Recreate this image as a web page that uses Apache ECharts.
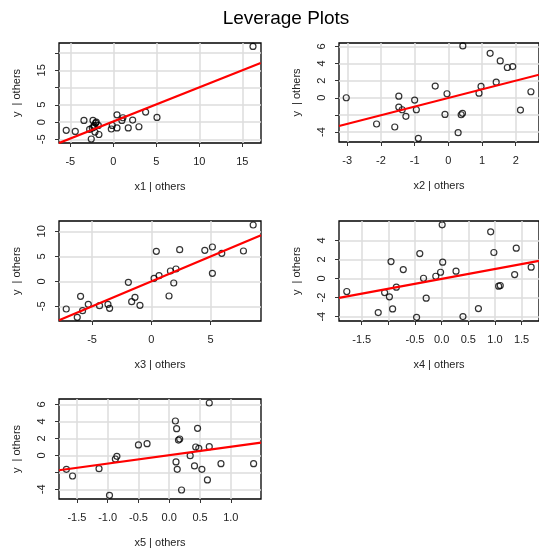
<!DOCTYPE html>
<html>
<head>
<meta charset="utf-8">
<script src="https://cdn.jsdelivr.net/npm/echarts@6/dist/echarts.min.js"></script>
<style>html,body{margin:0;padding:0;background:#fff;}#c{width:539px;height:549px;}</style>
</head>
<body>
<div id="c"></div>
<script>
// ---- data ----
const p1x = [16.24,-5.47,-4.42,-3.41,-2.56,-2.75,-2.44,-2.36,-2.21,-2.05,-1.98,-2.13,-1.74,-1.67,-2.25,-0.23,-0.12,0.43,0.43,1.0,1.12,1.74,2.25,2.98,3.76,5.08];
const p1y = [21.9,-2.4,-2.7,0.48,-4.9,-2.1,-1.7,0.48,-0.97,-0.3,0,-2.9,-0.97,-3.6,-1.45,-2.0,-0.97,2.1,-1.7,0.48,1.25,-1.7,0.58,-1.35,2.9,1.35];
const p1Line = [[-6.32,-6.08],[17.13,17.08]];

const p2x = [-3.03,-2.13,-1.59,-1.47,-1.47,-1.37,-1.26,-1.0,-0.95,-0.89,-0.39,-0.10,-0.04,0.38,0.42,0.29,0.43,0.91,0.97,1.24,1.42,1.54,1.75,1.91,2.14,2.45];
const p2y = [0,-3.06,-3.41,0.19,-1.09,-1.40,-2.17,-0.27,-1.40,-4.73,1.36,-1.94,0.47,-1.98,-1.82,-4.07,6.05,0.54,1.32,5.19,1.82,4.30,3.53,3.64,-1.43,0.70];
const p2Line = [[-3.245,-3.29],[2.69,2.69]];

const p3x = [-7.18,-6.25,-5.97,-5.80,-5.32,-4.37,-3.66,-3.52,-1.94,-1.66,-1.38,-0.96,0.23,0.42,0.65,1.49,1.61,1.89,2.08,2.39,4.51,5.15,5.15,5.94,7.77,8.59];
const p3y = [-5.53,-7.2,-3.0,-5.87,-4.6,-4.87,-4.6,-5.4,-0.2,-4.07,-3.2,-4.8,0.6,6.0,1.13,-2.93,2.07,-0.33,2.47,6.33,6.2,6.87,1.6,5.6,6.07,11.27];
const p3Line = [[-7.79,-7.8],[9.25,9.2]];

const p4x = [-1.78,-1.19,-1.07,-0.98,-0.95,-0.92,-0.85,-0.72,-0.47,-0.41,-0.34,-0.29,-0.11,-0.02,0.01,0.02,0.27,0.40,0.69,0.92,0.98,1.07,1.10,1.37,1.40,1.68];
const p4y = [-1.36,-3.57,-1.47,-1.92,1.78,-3.18,-0.91,0.94,-4.06,2.62,0.03,-2.06,0.24,0.66,5.63,1.71,0.77,-3.99,-3.15,4.9,2.73,-0.80,-0.73,0.42,3.18,1.19];
const p4Line = [[-1.926,-2.03],[1.827,1.86]];

const p5x = [-1.67,-1.57,-1.14,-0.97,-0.875,-0.85,-0.50,-0.36,0.10,0.12,0.11,0.13,0.15,0.17,0.20,0.34,0.41,0.43,0.46,0.48,0.53,0.62,0.65,0.65,0.84,1.37];
const p5y = [-1.65,-2.43,-1.57,-4.71,-0.43,-0.12,1.22,1.37,4.04,3.14,-0.78,-1.65,1.80,1.92,-4.08,-0.04,-1.25,0.98,3.18,0.82,-1.65,-2.9,6.16,1.02,-0.98,-0.98];
const p5Line = [[-1.79,-1.76],[1.49,1.49]];

// tick values (all) and shown tick labels
const p1XTicks = [-5,0,5,10,15],   p1XLabels = [-5,0,5,10,15];
const p1YTicks = [-5,0,5,10,15,20], p1YLabels = [-5,0,5,15];
const p2XTicks = [-3,-2,-1,0,1,2], p2XLabels = [-3,-2,-1,0,1,2];
const p2YTicks = [-4,-2,0,2,4,6],  p2YLabels = [-4,0,2,4,6];
const p3XTicks = [-5,0,5],         p3XLabels = [-5,0,5];
const p3YTicks = [-5,0,5,10],      p3YLabels = [-5,0,5,10];
const p4XTicks = [-1.5,-1.0,-0.5,0.0,0.5,1.0,1.5], p4XLabels = [-1.5,-0.5,0.0,0.5,1.0,1.5];
const p4YTicks = [-4,-2,0,2,4],    p4YLabels = [-4,-2,0,2,4];
const p5XTicks = [-1.5,-1.0,-0.5,0.0,0.5,1.0], p5XLabels = [-1.5,-1.0,-0.5,0.0,0.5,1.0];
const p5YTicks = [-4,-2,0,2,4,6],  p5YLabels = [-4,0,2,4,6];

const xNames = ['x1 | others','x2 | others','x3 | others','x4 | others','x5 | others'];
const yName = 'y  | others';
const titleText = 'Leverage Plots';

// ---- layout ----
const FONT = 'Liberation Sans, Arial, Helvetica, sans-serif';
const grids = [
  {left:59, top:43, width:202, height:100, xr:[-6.31,17.17], yr:[-6.06,22.9]},
  {left:339, top:43, width:202, height:99, xr:[-3.245,2.69], yr:[-5.16,6.39]},
  {left:59, top:221, width:202, height:100, xr:[-7.79,9.25], yr:[-7.93,12.07]},
  {left:339, top:221, width:202, height:100, xr:[-1.926,1.827], yr:[-4.45,6.03]},
  {left:59, top:399, width:202, height:100, xr:[-1.79,1.49], yr:[-5.14,6.63]}
];
const panels = [
  {x:p1x,y:p1y,line:p1Line,xt:p1XTicks,xl:p1XLabels,yt:p1YTicks,yl:p1YLabels},
  {x:p2x,y:p2y,line:p2Line,xt:p2XTicks,xl:p2XLabels,yt:p2YTicks,yl:p2YLabels},
  {x:p3x,y:p3y,line:p3Line,xt:p3XTicks,xl:p3XLabels,yt:p3YTicks,yl:p3YLabels},
  {x:p4x,y:p4y,line:p4Line,xt:p4XTicks,xl:p4XLabels,yt:p4YTicks,yl:p4YLabels},
  {x:p5x,y:p5y,line:p5Line,xt:p5XTicks,xl:p5XLabels,yt:p5YTicks,yl:p5YLabels}
];

function fmt(decimals){ return v => decimals ? Number(v).toFixed(1) : String(Math.round(v)); }

const option = {
  backgroundColor:'#fff',
  animation:false,
  title:{text:titleText,left:286,top:9,textAlign:'center',padding:0,
    textStyle:{fontFamily:FONT,fontSize:19,fontWeight:'normal',color:'#000'}},
  grid:[], xAxis:[], yAxis:[], series:[]
};

panels.forEach((p,i)=>{
  const g = grids[i];
  option.grid.push({left:g.left,top:g.top,width:g.width,height:g.height,show:true,
    borderColor:'#000',borderWidth:1.3,backgroundColor:'transparent',containLabel:false});
  const dec = (i===3||i===4);
  option.xAxis.push({type:'value',gridIndex:i,min:g.xr[0],max:g.xr[1],position:'bottom',
    name:xNames[i],nameLocation:'middle',nameGap:38,
    nameTextStyle:{fontFamily:FONT,fontSize:11,color:'#222'},
    axisLine:{show:false,onZero:false},
    axisTick:{show:true,inside:false,length:4,customValues:p.xt,lineStyle:{color:'#333',width:1}},
    axisLabel:{customValues:p.xl,margin:13,formatter:fmt(dec),fontFamily:FONT,fontSize:11,color:'#222'},
    splitLine:{show:true,lineStyle:{color:'#dcdcdc',width:1.5}}
  });
  option.yAxis.push({type:'value',gridIndex:i,min:g.yr[0],max:g.yr[1],position:'left',
    name:yName,nameLocation:'middle',nameGap:37,nameRotate:90,
    nameTextStyle:{fontFamily:FONT,fontSize:11,color:'#222'},
    axisLine:{show:false,onZero:false},
    axisTick:{show:true,inside:false,length:4,customValues:p.yt,lineStyle:{color:'#333',width:1}},
    axisLabel:{customValues:p.yl,margin:12,rotate:90,formatter:fmt(false),fontFamily:FONT,fontSize:11,color:'#222'},
    splitLine:{show:true,lineStyle:{color:'#dcdcdc',width:1.5}}
  });
  option.series.push({type:'scatter',xAxisIndex:i,yAxisIndex:i,
    data:p.x.map((v,k)=>[v,p.y[k]]),symbol:'circle',symbolSize:6,
    itemStyle:{color:'rgba(0,0,0,0)',borderColor:'#000',borderWidth:1.2},z:3});
  option.series.push({type:'line',xAxisIndex:i,yAxisIndex:i,data:p.line,
    symbol:'none',clip:true,lineStyle:{color:'#ff0000',width:2.2},z:4});
});

const chart = echarts.init(document.getElementById('c'),null,{renderer:'canvas'});
chart.setOption(option);
</script>
</body>
</html>
